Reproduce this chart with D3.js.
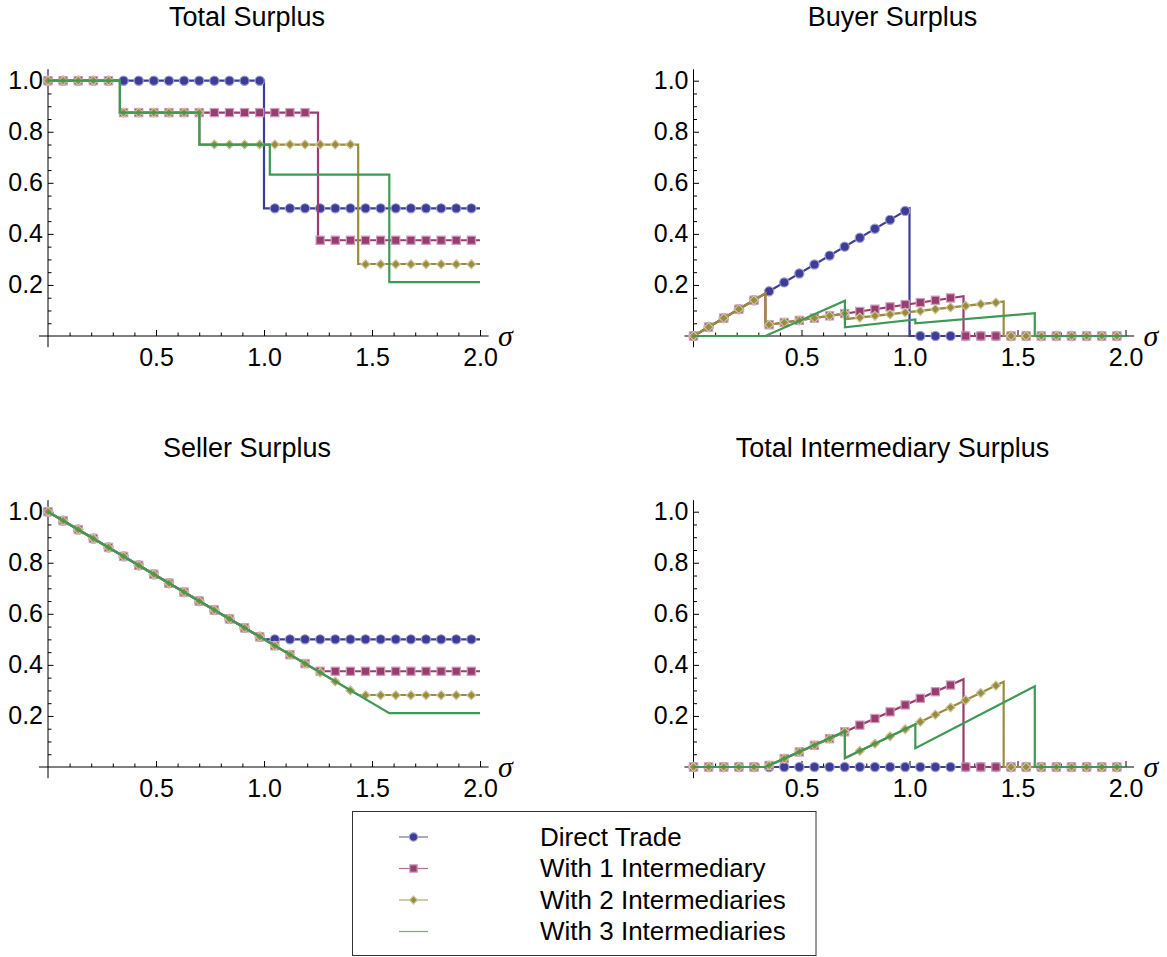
<!DOCTYPE html>
<html>
<head>
<meta charset="utf-8">
<script src="https://cdn.jsdelivr.net/npm/d3@7"></script>
<style>
body { margin: 0; background: #fff; }
svg text { font-family: "Liberation Sans", Arial, sans-serif; fill: #000; }
</style>
</head>
<body>
<svg id="chart" width="1167" height="957"></svg>
<script>
// ---- data ----
var seriesNames = ["Direct Trade", "With 1 Intermediary", "With 2 Intermediaries", "With 3 Intermediaries"];
var panelTitles = ["Total Surplus", "Buyer Surplus", "Seller Surplus", "Total Intermediary Surplus"];
var xTickLabels = [0.5, 1.0, 1.5, 2.0];
var yTickLabels = [0.2, 0.4, 0.6, 0.8, 1.0];

// sigma values where the plot markers sit
var markerX = [0, 0.07, 0.14, 0.21, 0.28, 0.35, 0.42, 0.49, 0.56, 0.63, 0.70, 0.77, 0.84, 0.91, 0.98,
               1.05, 1.12, 1.19, 1.26, 1.33, 1.40, 1.47, 1.54, 1.61, 1.68, 1.75, 1.82, 1.89, 1.96];

// line vertices [sigma, value]
var totalDirect = [[0, 1], [1, 1], [1, 0.5], [2, 0.5]];
var totalOne    = [[0, 1], [0.333, 1], [0.333, 0.875], [1.25, 0.875], [1.25, 0.375], [2, 0.375]];
var totalTwo    = [[0, 1], [0.333, 1], [0.333, 0.875], [0.701, 0.875], [0.701, 0.75], [1.436, 0.75], [1.436, 0.282], [2, 0.282]];
var totalThree  = [[0, 1], [0.333, 1], [0.333, 0.875], [0.701, 0.875], [0.701, 0.75], [1.027, 0.75], [1.027, 0.632], [1.58, 0.632], [1.58, 0.211], [2, 0.211]];

var buyerDirect = [[0, 0], [1, 0.5], [1, 0], [2, 0]];
var buyerOne    = [[0, 0], [0.333, 0.167], [0.333, 0.042], [1.25, 0.156], [1.25, 0], [2, 0]];
var buyerTwo    = [[0, 0], [0.333, 0.167], [0.333, 0.042], [0.701, 0.088], [0.701, 0.066], [1.436, 0.135], [1.436, 0], [2, 0]];
var buyerThree  = [[0, 0], [0.333, 0], [0.701, 0.138], [0.701, 0.034], [1.027, 0.065], [1.027, 0.05], [1.58, 0.089], [1.58, 0], [2, 0]];

var sellerDirect = [[0, 1], [1, 0.5], [2, 0.5]];
var sellerOne    = [[0, 1], [1.25, 0.375], [2, 0.375]];
var sellerTwo    = [[0, 1], [1.436, 0.282], [2, 0.282]];
var sellerThree  = [[0, 1], [1.58, 0.211], [2, 0.211]];

var interDirect = [[0, 0], [2, 0]];
var interOne    = [[0, 0], [0.333, 0], [1.25, 0.344], [1.25, 0], [2, 0]];
var interTwo    = [[0, 0], [0.333, 0], [0.701, 0.138], [0.701, 0.034], [1.436, 0.334], [1.436, 0], [2, 0]];
var interThree  = [[0, 0], [0.333, 0], [0.701, 0.14], [0.701, 0.035], [1.027, 0.167], [1.027, 0.074], [1.58, 0.316], [1.58, 0], [2, 0]];

// marker values at markerX (series 1-3 carry markers)
var totalDirectM = [1, 1, 1, 1, 1, 1, 1, 1, 1, 1, 1, 1, 1, 1, 1,
                    0.5, 0.5, 0.5, 0.5, 0.5, 0.5, 0.5, 0.5, 0.5, 0.5, 0.5, 0.5, 0.5, 0.5];
var totalOneM = [1, 1, 1, 1, 1, 0.875, 0.875, 0.875, 0.875, 0.875, 0.875, 0.875, 0.875, 0.875, 0.875,
                 0.875, 0.875, 0.875, 0.375, 0.375, 0.375, 0.375, 0.375, 0.375, 0.375, 0.375, 0.375, 0.375, 0.375];
var totalTwoM = [1, 1, 1, 1, 1, 0.875, 0.875, 0.875, 0.875, 0.875, 0.875, 0.75, 0.75, 0.75, 0.75,
                 0.75, 0.75, 0.75, 0.75, 0.75, 0.75, 0.281, 0.281, 0.281, 0.281, 0.281, 0.281, 0.281, 0.281];

var buyerDirectM = [0, 0.035, 0.07, 0.105, 0.14, 0.175, 0.21, 0.245, 0.28, 0.315, 0.35, 0.385, 0.42, 0.455, 0.49,
                    0, 0, 0, 0, 0, 0, 0, 0, 0, 0, 0, 0, 0, 0];
var buyerOneM = [0, 0.035, 0.07, 0.105, 0.14, 0.044, 0.053, 0.061, 0.07, 0.079, 0.088, 0.096, 0.105, 0.114, 0.123,
                 0.131, 0.14, 0.149, 0, 0, 0, 0, 0, 0, 0, 0, 0, 0, 0];
var buyerTwoM = [0, 0.035, 0.07, 0.105, 0.14, 0.044, 0.053, 0.061, 0.07, 0.079, 0.088, 0.072, 0.079, 0.085, 0.092,
                 0.098, 0.105, 0.112, 0.118, 0.125, 0.131, 0, 0, 0, 0, 0, 0, 0, 0];

var sellerDirectM = [1, 0.965, 0.93, 0.895, 0.86, 0.825, 0.79, 0.755, 0.72, 0.685, 0.65, 0.615, 0.58, 0.545, 0.51,
                     0.5, 0.5, 0.5, 0.5, 0.5, 0.5, 0.5, 0.5, 0.5, 0.5, 0.5, 0.5, 0.5, 0.5];
var sellerOneM = [1, 0.965, 0.93, 0.895, 0.86, 0.825, 0.79, 0.755, 0.72, 0.685, 0.65, 0.615, 0.58, 0.545, 0.51,
                  0.475, 0.44, 0.405, 0.375, 0.375, 0.375, 0.375, 0.375, 0.375, 0.375, 0.375, 0.375, 0.375, 0.375];
var sellerTwoM = [1, 0.965, 0.93, 0.895, 0.86, 0.825, 0.79, 0.755, 0.72, 0.685, 0.65, 0.615, 0.58, 0.545, 0.51,
                  0.475, 0.44, 0.405, 0.37, 0.335, 0.30, 0.281, 0.281, 0.281, 0.281, 0.281, 0.281, 0.281, 0.281];

var interDirectM = [0, 0, 0, 0, 0, 0, 0, 0, 0, 0, 0, 0, 0, 0, 0,
                    0, 0, 0, 0, 0, 0, 0, 0, 0, 0, 0, 0, 0, 0];
var interOneM = [0, 0, 0, 0, 0, 0.006, 0.033, 0.059, 0.085, 0.111, 0.138, 0.164, 0.19, 0.216, 0.243,
                 0.269, 0.295, 0.321, 0, 0, 0, 0, 0, 0, 0, 0, 0, 0, 0];
var interTwoM = [0, 0, 0, 0, 0, 0.006, 0.033, 0.059, 0.085, 0.111, 0.138, 0.063, 0.091, 0.12, 0.148,
                 0.177, 0.205, 0.233, 0.262, 0.29, 0.319, 0, 0, 0, 0, 0, 0, 0, 0];

// ---- styles ----
var colors = ["#3d3d99", "#993d71", "#998d3d", "#3d9954"];
var shapes = ["circle", "square", "diamond", null];

var svg = d3.select("#chart");

var panels = [
  { title: panelTitles[0], x0: 48,    y0: 336, lines: [totalDirect, totalOne, totalTwo, totalThree], marks: [totalDirectM, totalOneM, totalTwoM] },
  { title: panelTitles[1], x0: 693.5, y0: 336, lines: [buyerDirect, buyerOne, buyerTwo, buyerThree], marks: [buyerDirectM, buyerOneM, buyerTwoM] },
  { title: panelTitles[2], x0: 48,    y0: 767, lines: [sellerDirect, sellerOne, sellerTwo, sellerThree], marks: [sellerDirectM, sellerOneM, sellerTwoM] },
  { title: panelTitles[3], x0: 693.5, y0: 767, lines: [interDirect, interOne, interTwo, interThree], marks: [interDirectM, interOneM, interTwoM] }
];

function halo(c) { return d3.interpolateRgb(c, "#ffffff")(0.5); }

function drawMarker(g, shape, cx, cy, color, scale) {
  var s = scale || 1;
  if (shape === "circle") {
    g.append("circle").attr("cx", cx).attr("cy", cy).attr("r", 4.6 * s)
      .attr("fill", color).attr("stroke", halo(color)).attr("stroke-width", 1.2);
  } else if (shape === "square") {
    g.append("rect").attr("x", cx - 4.1 * s).attr("y", cy - 4.1 * s)
      .attr("width", 8.2 * s).attr("height", 8.2 * s)
      .attr("fill", color).attr("stroke", halo(color)).attr("stroke-width", 1.2);
  } else if (shape === "diamond") {
    var r = 4.5 * s;
    g.append("path").attr("d", "M" + cx + "," + (cy - r) + "L" + (cx + r) + "," + cy + "L" + cx + "," + (cy + r) + "L" + (cx - r) + "," + cy + "Z")
      .attr("fill", color).attr("stroke", halo(color)).attr("stroke-width", 1.2);
  }
}

function drawPanel(p) {
  var x = d3.scaleLinear().domain([0, 2]).range([p.x0, p.x0 + 432]);
  var y = d3.scaleLinear().domain([0, 1]).range([p.y0, p.y0 - 255.3]);
  var g = svg.append("g");

  // title
  g.append("text").attr("x", p.x0 + 199).attr("y", p.y0 - 310)
    .attr("text-anchor", "middle").attr("font-size", 27).text(p.title);

  // axes lines
  g.append("line").attr("x1", x(-0.042)).attr("x2", x(2.04)).attr("y1", y(0)).attr("y2", y(0))
    .attr("stroke", "#000").attr("stroke-width", 1);
  g.append("line").attr("x1", x(0)).attr("x2", x(0)).attr("y1", y(-0.044)).attr("y2", y(1.045))
    .attr("stroke", "#000").attr("stroke-width", 1);

  var xMinor = x.ticks(20).filter(function (d) { return d > 0 && Math.abs(d * 2 - Math.round(d * 2)) > 1e-6; });
  var yMinor = y.ticks(20).filter(function (d) { return d > 0 && Math.abs(d * 5 - Math.round(d * 5)) > 1e-6; });

  g.append("g").attr("transform", "translate(0," + y(0) + ")")
    .call(d3.axisBottom(x).tickValues(xMinor).tickSize(-3.5).tickFormat(""))
    .call(function (a) { a.select(".domain").remove(); })
    .attr("color", "#000");
  g.append("g").attr("transform", "translate(0," + y(0) + ")")
    .call(d3.axisBottom(x).tickValues(xTickLabels).tickSize(-6).tickPadding(12).tickFormat(d3.format(".1f")))
    .call(function (a) { a.select(".domain").remove(); })
    .attr("color", "#000").attr("font-size", 25).attr("font-family", null);

  g.append("g").attr("transform", "translate(" + x(0) + ",0)")
    .call(d3.axisLeft(y).tickValues(yMinor).tickSize(-3.5).tickFormat(""))
    .call(function (a) { a.select(".domain").remove(); })
    .attr("color", "#000");
  g.append("g").attr("transform", "translate(" + x(0) + ",0)")
    .call(d3.axisLeft(y).tickValues(yTickLabels).tickSize(-5.5).tickPadding(5).tickFormat(d3.format(".1f")))
    .call(function (a) { a.select(".domain").remove(); })
    .attr("color", "#000").attr("font-size", 25).attr("font-family", null);

  // sigma label
  g.append("text").attr("x", x(2) + 18).attr("y", y(0) + 10)
    .attr("font-size", 30).attr("font-style", "italic")
    .style("font-family", "'Liberation Serif', 'Times New Roman', serif").text("\u03c3");

  var line = d3.line().x(function (d) { return x(d[0]); }).y(function (d) { return y(d[1]); });

  p.lines.forEach(function (pts, i) {
    g.append("path").datum(pts).attr("d", line)
      .attr("fill", "none").attr("stroke", colors[i]).attr("stroke-width", 2.2)
      .attr("stroke-linejoin", "miter");
    if (i < p.marks.length) {
      var mg = g.append("g");
      p.marks[i].forEach(function (v, k) {
        drawMarker(mg, shapes[i], x(markerX[k]), y(v), colors[i]);
      });
    }
  });
}

panels.forEach(drawPanel);

// legend
var lg = svg.append("g");
lg.append("rect").attr("x", 352.5).attr("y", 811.5).attr("width", 463.5).attr("height", 144)
  .attr("fill", "#fff").attr("stroke", "#333").attr("stroke-width", 1);
var rowY = d3.scalePoint().domain(seriesNames).range([837, 931.5]);
seriesNames.forEach(function (name, i) {
  var yy = rowY(name);
  lg.append("line").attr("x1", 399).attr("x2", 428).attr("y1", yy).attr("y2", yy)
    .attr("stroke", colors[i]).attr("stroke-opacity", 0.75).attr("stroke-width", 1.2);
  if (shapes[i]) drawMarker(lg, shapes[i], 413.5, yy, colors[i], 0.9);
  lg.append("text").attr("x", 540).attr("y", yy + 8.5).attr("font-size", 26).text(name);
});
</script>
</body>
</html>
